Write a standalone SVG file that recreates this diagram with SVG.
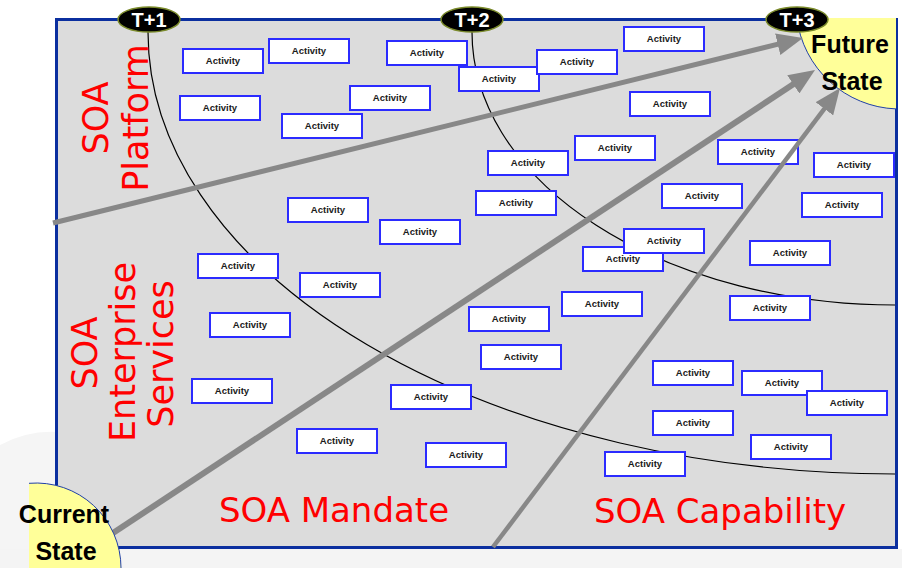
<svg xmlns="http://www.w3.org/2000/svg" width="902" height="568" viewBox="0 0 902 568">
<style>
.act rect{fill:#fff;stroke:#2b2bff;stroke-width:2}
.act text{font-family:"Liberation Sans",Arial,sans-serif;font-weight:bold;font-size:9.5px;fill:#1a1a1a;text-anchor:middle}
.red{font-family:"DejaVu Sans",Verdana,sans-serif;fill:#ff0000;text-anchor:middle}
.state{font-family:"Liberation Sans",Arial,sans-serif;font-weight:bold;font-size:25px;fill:#000;text-anchor:middle}
.tm ellipse{fill:#000;stroke:#7a8a2a;stroke-width:1.5}
.tm text{font-family:"Liberation Sans",Arial,sans-serif;font-weight:bold;font-size:20px;fill:#fff;text-anchor:middle}
.curve{fill:none;stroke:#000;stroke-width:1.2}
.arrow{fill:none;stroke:#888;marker-end:url(#ah)}
</style>
<defs>
<marker id="ah" viewBox="0 0 26 22" markerWidth="26" markerHeight="22" refX="14" refY="11" orient="auto" markerUnits="userSpaceOnUse">
<path d="M0,0 L26,11 L0,22 Z" fill="#888"/>
</marker>
</defs>
<rect width="902" height="568" fill="#fff"/>
<path d="M0,445 Q28,430 58,432 L58,568 L0,568 Z" fill="#f5f5f5"/>
<rect x="0" y="549" width="902" height="19" fill="#f4f4f4"/>
<g id="frame">
<rect x="56.5" y="19.5" width="840" height="528" fill="#dcdcdc" stroke="#0b2f9f" stroke-width="3"/>
</g>
<g id="connectors">
<path class="curve" d="M148,32 A747,442 0 0 0 895,474"/>
<path class="curve" d="M472,32 A423,273 0 0 0 895,305"/>
</g>
<g id="activities">
<g class="act" id="a1"><rect x="183" y="49" width="80" height="24"/><text x="223" y="64">Activity</text></g>
<g class="act" id="a2"><rect x="269" y="39" width="80" height="24"/><text x="309" y="54">Activity</text></g>
<g class="act" id="a3"><rect x="387" y="41" width="80" height="24"/><text x="427" y="56">Activity</text></g>
<g class="act" id="a4"><rect x="459" y="67" width="80" height="24"/><text x="499" y="82">Activity</text></g>
<g class="act" id="a5"><rect x="537" y="50" width="80" height="24"/><text x="577" y="65">Activity</text></g>
<g class="act" id="a6"><rect x="624" y="27" width="80" height="24"/><text x="664" y="42">Activity</text></g>
<g class="act" id="a7"><rect x="180" y="96" width="80" height="24"/><text x="220" y="111">Activity</text></g>
<g class="act" id="a8"><rect x="350" y="86" width="80" height="24"/><text x="390" y="101">Activity</text></g>
<g class="act" id="a9"><rect x="282" y="114" width="80" height="24"/><text x="322" y="129">Activity</text></g>
<g class="act" id="a10"><rect x="630" y="92" width="80" height="24"/><text x="670" y="107">Activity</text></g>
<g class="act" id="a11"><rect x="488" y="151" width="80" height="24"/><text x="528" y="166">Activity</text></g>
<g class="act" id="a12"><rect x="575" y="136" width="80" height="24"/><text x="615" y="151">Activity</text></g>
<g class="act" id="a13"><rect x="718" y="140" width="80" height="24"/><text x="758" y="155">Activity</text></g>
<g class="act" id="a14"><rect x="814" y="153" width="80" height="24"/><text x="854" y="168">Activity</text></g>
<g class="act" id="a15"><rect x="476" y="191" width="80" height="24"/><text x="516" y="206">Activity</text></g>
<g class="act" id="a16"><rect x="662" y="184" width="80" height="24"/><text x="702" y="199">Activity</text></g>
<g class="act" id="a17"><rect x="802" y="193" width="80" height="24"/><text x="842" y="208">Activity</text></g>
<g class="act" id="a18"><rect x="288" y="198" width="80" height="24"/><text x="328" y="213">Activity</text></g>
<g class="act" id="a19"><rect x="380" y="220" width="80" height="24"/><text x="420" y="235">Activity</text></g>
<g class="act" id="a21"><rect x="583" y="247" width="80" height="24"/><text x="623" y="262">Activity</text></g>
<g class="act" id="a20"><rect x="624" y="229" width="80" height="24"/><text x="664" y="244">Activity</text></g>
<g class="act" id="a22"><rect x="750" y="241" width="80" height="24"/><text x="790" y="256">Activity</text></g>
<g class="act" id="a23"><rect x="198" y="254" width="80" height="24"/><text x="238" y="269">Activity</text></g>
<g class="act" id="a24"><rect x="300" y="273" width="80" height="24"/><text x="340" y="288">Activity</text></g>
<g class="act" id="a25"><rect x="562" y="292" width="80" height="24"/><text x="602" y="307">Activity</text></g>
<g class="act" id="a26"><rect x="730" y="296" width="80" height="24"/><text x="770" y="311">Activity</text></g>
<g class="act" id="a27"><rect x="469" y="307" width="80" height="24"/><text x="509" y="322">Activity</text></g>
<g class="act" id="a28"><rect x="210" y="313" width="80" height="24"/><text x="250" y="328">Activity</text></g>
<g class="act" id="a29"><rect x="481" y="345" width="80" height="24"/><text x="521" y="360">Activity</text></g>
<g class="act" id="a30"><rect x="653" y="361" width="80" height="24"/><text x="693" y="376">Activity</text></g>
<g class="act" id="a31"><rect x="742" y="371" width="80" height="24"/><text x="782" y="386">Activity</text></g>
<g class="act" id="a32"><rect x="807" y="391" width="80" height="24"/><text x="847" y="406">Activity</text></g>
<g class="act" id="a33"><rect x="192" y="379" width="80" height="24"/><text x="232" y="394">Activity</text></g>
<g class="act" id="a34"><rect x="391" y="385" width="80" height="24"/><text x="431" y="400">Activity</text></g>
<g class="act" id="a35"><rect x="653" y="411" width="80" height="24"/><text x="693" y="426">Activity</text></g>
<g class="act" id="a36"><rect x="751" y="435" width="80" height="24"/><text x="791" y="450">Activity</text></g>
<g class="act" id="a37"><rect x="297" y="429" width="80" height="24"/><text x="337" y="444">Activity</text></g>
<g class="act" id="a38"><rect x="426" y="443" width="80" height="24"/><text x="466" y="458">Activity</text></g>
<g class="act" id="a39"><rect x="605" y="452" width="80" height="24"/><text x="645" y="467">Activity</text></g>
</g>
<g id="future-state">
<path d="M796.8,18 A104,104 0 0 0 896,108.9 L896,18 Z" fill="#ffff99"/>
<path d="M796.8,18 A104,104 0 0 0 896,108.9" fill="none" stroke="#1f3fa8" stroke-width="1"/>
</g>
<g id="arrows">
<line class="arrow" x1="53" y1="223" x2="791.3" y2="40.9" stroke-width="5"/>
<line class="arrow" x1="113" y1="533" x2="805" y2="76.6" stroke-width="6"/>
<line class="arrow" x1="493" y1="547" x2="832.8" y2="97.6" stroke-width="4.5"/>
</g>
<g id="current-state">
<path d="M29,483.3 A85,85 0 0 1 121,568 L29,568 Z" fill="#ffff99"/>
<path d="M29,483.3 A85,85 0 0 1 121,568" fill="none" stroke="#1f3fa8" stroke-width="1"/>
<text class="state" x="64" y="523">Current</text>
<text class="state" x="66" y="560">State</text>
</g>
<text class="state" x="850" y="53">Future</text>
<text class="state" x="852" y="90">State</text>
<g id="labels">
<text class="red" font-size="35" transform="translate(108,118) rotate(-90)">SOA</text>
<text class="red" font-size="35" transform="translate(148,118) rotate(-90)">Platform</text>
<text class="red" font-size="35" transform="translate(97,353) rotate(-90)">SOA</text>
<text class="red" font-size="35" transform="translate(135,352) rotate(-90)">Enterprise</text>
<text class="red" font-size="35" transform="translate(173,354) rotate(-90)">Services</text>
<text class="red" font-size="34" x="334" y="522">SOA Mandate</text>
<text class="red" font-size="34" x="720" y="523">SOA Capability</text>
</g>
<g class="tm" id="t1"><ellipse cx="149" cy="19.5" rx="31" ry="12.5"/><text x="149" y="27">T+1</text></g>
<g class="tm" id="t2"><ellipse cx="472" cy="19.5" rx="31" ry="12.5"/><text x="472" y="27">T+2</text></g>
<g class="tm" id="t3"><ellipse cx="797" cy="19.5" rx="31" ry="12.5"/><text x="797" y="27">T+3</text></g>
</svg>
